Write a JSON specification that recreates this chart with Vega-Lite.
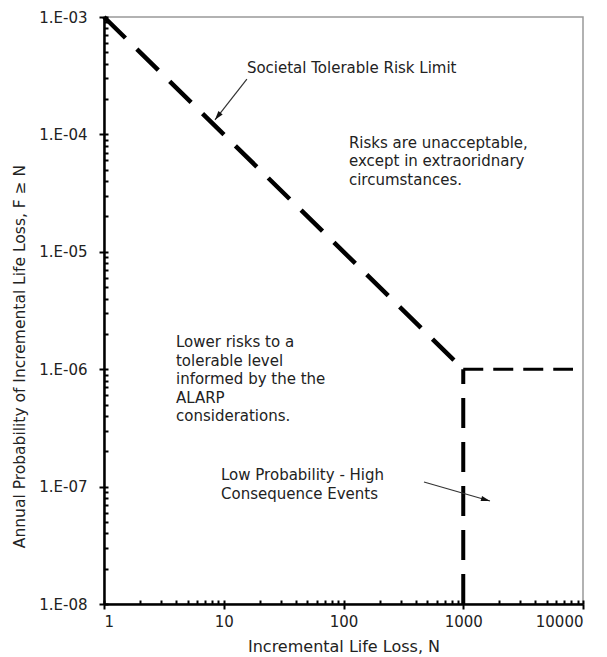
{
  "$schema": "https://vega.github.io/schema/vega-lite/v6.json",
  "width": 479,
  "height": 587,
  "autosize": {"type": "none"},
  "padding": {"left": 104, "top": 17, "right": 24, "bottom": 53},
  "background": "white",
  "config": {
    "view": {"stroke": "#999999", "strokeWidth": 1.5},
    "font": "DejaVu Sans"
  },
  "datasets": {
    "lines": [
      {"s": "limit", "N": 1, "F": 0.001, "o": 1},
      {"s": "limit", "N": 1000, "F": 0.000001, "o": 2},
      {"s": "vert", "N": 1000, "F": 0.00000001, "o": 1},
      {"s": "vert", "N": 1000, "F": 0.000001, "o": 2},
      {"s": "horiz", "N": 1000, "F": 0.000001, "o": 1},
      {"s": "horiz", "N": 8250, "F": 0.000001, "o": 2}
    ],
    "notes": [
      {"t": "Societal Tolerable Risk Limit", "N": 15.6, "F": 0.000333},
      {"t": "Risks are unacceptable,\nexcept in extraoridnary\ncircumstances.", "N": 111, "F": 0.0000766},
      {"t": "Lower risks to a\ntolerable level\ninformed by the the\nALARP\nconsiderations.", "N": 3.99, "F": 0.000001545},
      {"t": "Low  Probability - High\nConsequence Events", "N": 9.49, "F": 0.0000001137}
    ],
    "arrows": [
      {"a": "societal", "N1": 15.6, "F1": 0.000296, "N2": 8.45, "F2": 0.000133},
      {"a": "lowprob", "N1": 470, "F1": 0.0000001094, "N2": 1672, "F2": 0.0000000754}
    ]
  },
  "resolve": {"axis": {"x": "independent", "y": "independent"}},
  "layer": [
    {
      "data": {"name": "lines"},
      "transform": [{"filter": "datum.s === 'limit'"}],
      "mark": {"type": "line", "color": "black", "strokeWidth": 4.5, "strokeDash": [30, 16], "strokeCap": "butt"},
      "encoding": {
        "x": {
          "field": "N", "type": "quantitative",
          "scale": {"type": "log", "domain": [1, 10000], "nice": false},
          "axis": {
            "orient": "bottom",
            "values": [1, 10, 100, 1000, 10000],
            "labelExpr": "format(datum.value, 'd')",
            "title": "Incremental Life Loss, N",
            "grid": false,
            "domainColor": "black", "domainWidth": 2.5,
            "tickColor": "black", "tickWidth": 2, "tickSize": 5,
            "labelFontSize": 15, "labelColor": "#222222", "labelPadding": 5,
            "labelFont": "DejaVu Sans",
            "titleFont": "DejaVu Sans", "titleFontSize": 16, "titleFontWeight": "normal", "titleColor": "#222222",
            "titleBaseline": "middle", "titleY": 42
          }
        },
        "y": {
          "field": "F", "type": "quantitative",
          "scale": {"type": "log", "domain": [0.00000001, 0.001], "nice": false},
          "axis": {
            "orient": "left",
            "values": [0.00000001, 0.0000001, 0.000001, 0.00001, 0.0001, 0.001],
            "labelExpr": "'1.E-0' + round(-log(datum.value) / LN10)",
            "title": "Annual Probability of Incremental Life Loss, F ≥ N",
            "grid": false,
            "domainColor": "black", "domainWidth": 2.5,
            "tickColor": "black", "tickWidth": 2, "tickSize": 5,
            "labelFontSize": 15, "labelColor": "#222222", "labelPadding": 12,
            "labelFont": "DejaVu Sans",
            "titleFont": "DejaVu Sans", "titleFontSize": 15.5, "titleFontWeight": "normal", "titleColor": "#222222",
            "titleBaseline": "middle", "titleX": -85, "titleY": 339
          }
        },
        "order": {"field": "o", "type": "quantitative"}
      }
    },
    {
      "data": {"name": "lines"},
      "transform": [{"filter": "datum.s === 'vert'"}],
      "mark": {"type": "line", "color": "black", "strokeWidth": 4, "strokeDash": [30, 14], "strokeCap": "butt"},
      "encoding": {
        "x": {
          "field": "N", "type": "quantitative",
          "scale": {"type": "log", "domain": [1, 10000], "nice": false},
          "axis": {
            "orient": "bottom",
            "values": [1, 2, 3, 4, 5, 6, 7, 8, 9, 10, 20, 30, 40, 50, 60, 70, 80, 90, 100, 200, 300, 400, 500, 600, 700, 800, 900, 1000, 2000, 3000, 4000, 5000, 6000, 7000, 8000, 9000, 10000],
            "labels": false, "domain": false, "grid": false, "title": null,
            "tickColor": "black", "tickWidth": 2, "tickSize": -4
          }
        },
        "y": {
          "field": "F", "type": "quantitative",
          "scale": {"type": "log", "domain": [0.00000001, 0.001], "nice": false},
          "axis": {
            "orient": "left",
            "values": [0.00000001, 0.00000002, 0.00000003, 0.00000004, 0.00000005, 0.00000006, 0.00000007, 0.00000008, 0.00000009,
                       0.0000001, 0.0000002, 0.0000003, 0.0000004, 0.0000005, 0.0000006, 0.0000007, 0.0000008, 0.0000009,
                       0.000001, 0.000002, 0.000003, 0.000004, 0.000005, 0.000006, 0.000007, 0.000008, 0.000009,
                       0.00001, 0.00002, 0.00003, 0.00004, 0.00005, 0.00006, 0.00007, 0.00008, 0.00009,
                       0.0001, 0.0002, 0.0003, 0.0004, 0.0005, 0.0006, 0.0007, 0.0008, 0.0009, 0.001],
            "labels": false, "domain": false, "grid": false, "title": null,
            "tickColor": "black", "tickWidth": 2, "tickSize": -4
          }
        },
        "order": {"field": "o", "type": "quantitative"}
      }
    },
    {
      "data": {"name": "lines"},
      "transform": [{"filter": "datum.s === 'horiz'"}],
      "mark": {"type": "line", "color": "black", "strokeWidth": 3, "strokeDash": [20, 10], "strokeCap": "butt"},
      "encoding": {
        "x": {"field": "N", "type": "quantitative", "scale": {"type": "log", "domain": [1, 10000], "nice": false}, "axis": null},
        "y": {"field": "F", "type": "quantitative", "scale": {"type": "log", "domain": [0.00000001, 0.001], "nice": false}, "axis": null},
        "order": {"field": "o", "type": "quantitative"}
      }
    },
    {
      "data": {"name": "notes"},
      "mark": {"type": "text", "align": "left", "baseline": "alphabetic", "lineBreak": "\n", "lineHeight": 18.5, "fontSize": 15, "font": "DejaVu Sans", "color": "#222222"},
      "encoding": {
        "x": {"field": "N", "type": "quantitative", "scale": {"type": "log", "domain": [1, 10000], "nice": false}, "axis": null},
        "y": {"field": "F", "type": "quantitative", "scale": {"type": "log", "domain": [0.00000001, 0.001], "nice": false}, "axis": null},
        "text": {"field": "t"}
      }
    },
    {
      "data": {"name": "arrows"},
      "mark": {"type": "rule", "color": "#333333", "strokeWidth": 1.2},
      "encoding": {
        "x": {"field": "N1", "type": "quantitative", "scale": {"type": "log", "domain": [1, 10000], "nice": false}, "axis": null},
        "y": {"field": "F1", "type": "quantitative", "scale": {"type": "log", "domain": [0.00000001, 0.001], "nice": false}, "axis": null},
        "x2": {"field": "N2"},
        "y2": {"field": "F2"}
      }
    },
    {
      "data": {"name": "arrows"},
      "transform": [{"filter": "datum.a === 'societal'"}],
      "mark": {"type": "point", "shape": "M0,0L-0.6,2L0.6,2Z", "filled": true, "color": "#111111", "size": 81, "angle": 218, "opacity": 1},
      "encoding": {
        "x": {"field": "N2", "type": "quantitative", "scale": {"type": "log", "domain": [1, 10000], "nice": false}, "axis": null},
        "y": {"field": "F2", "type": "quantitative", "scale": {"type": "log", "domain": [0.00000001, 0.001], "nice": false}, "axis": null}
      }
    },
    {
      "data": {"name": "arrows"},
      "transform": [{"filter": "datum.a === 'lowprob'"}],
      "mark": {"type": "point", "shape": "M0,0L-0.6,2L0.6,2Z", "filled": true, "color": "#111111", "size": 81, "angle": 106, "opacity": 1},
      "encoding": {
        "x": {"field": "N2", "type": "quantitative", "scale": {"type": "log", "domain": [1, 10000], "nice": false}, "axis": null},
        "y": {"field": "F2", "type": "quantitative", "scale": {"type": "log", "domain": [0.00000001, 0.001], "nice": false}, "axis": null}
      }
    }
  ]
}
